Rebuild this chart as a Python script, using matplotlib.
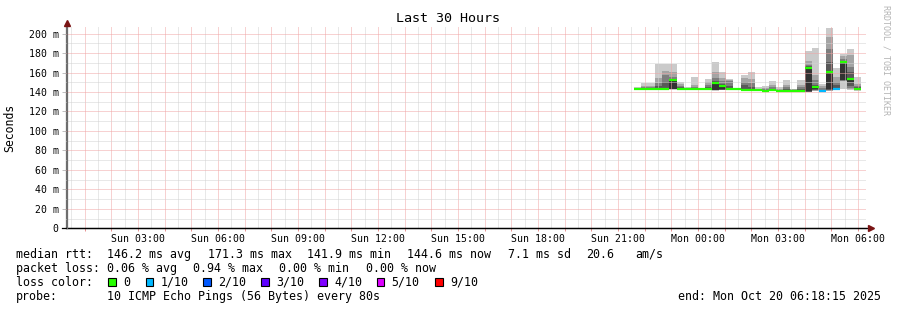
import matplotlib
matplotlib.use("Agg")
import matplotlib.pyplot as plt
import matplotlib.dates as mdates
import matplotlib.transforms as mtransforms
from matplotlib.patches import Rectangle
from matplotlib.lines import Line2D
import pandas as pd

W, H = 897, 310
FONT = "DejaVu Sans Mono"

# ---------------- data ----------------
range_start = "2025-10-19 00:18:15"
range_end = "2025-10-20 06:18:15"
step_start = pd.date_range("2025-10-19 21:36", periods=32, freq="16min")
step_minutes = 16

# 10 sorted ping RTTs (ms) for each step
pings = [
    [142.5, 142.8, 143.0, 143.0, 143.0, 143.0, 143.5, 144.0, 144.5, 145.5],
    [142.5, 142.8, 143.0, 143.0, 143.0, 143.0, 144.0, 145.0, 146.0, 149.0],
    [142.5, 142.8, 143.0, 143.0, 143.0, 143.0, 144.0, 145.5, 146.5, 149.0],
    [142.5, 143.0, 143.0, 143.2, 143.5, 143.5, 146.0, 149.0, 154.0, 168.8],
    [142.5, 142.8, 143.0, 143.0, 143.0, 143.2, 150.0, 157.0, 162.0, 168.8],
    [142.5, 143.0, 143.2, 143.4, 143.5, 152.0, 153.0, 155.4, 161.0, 168.8],
    [142.0, 142.5, 142.8, 143.0, 143.0, 143.5, 145.0, 146.5, 148.0, 150.3],
    [142.5, 142.7, 142.8, 143.0, 143.0, 143.0, 143.5, 144.0, 144.5, 145.0],
    [142.5, 142.7, 142.8, 143.0, 143.0, 143.0, 144.0, 145.5, 147.5, 155.4],
    [142.5, 142.8, 143.0, 143.2, 143.4, 143.5, 143.7, 144.0, 144.2, 144.5],
    [142.5, 142.7, 142.8, 143.0, 143.0, 143.0, 145.0, 147.5, 150.3, 153.4],
    [141.5, 141.8, 142.0, 142.2, 142.5, 149.0, 151.0, 154.4, 160.5, 170.8],
    [142.0, 142.2, 142.4, 142.5, 143.0, 146.0, 148.0, 151.0, 154.4, 160.5],
    [142.5, 142.8, 143.0, 143.2, 143.4, 143.5, 146.0, 151.0, 152.6, 153.7],
    [142.0, 142.2, 142.4, 142.5, 142.6, 142.7, 143.0, 143.3, 143.6, 144.0],
    [141.5, 141.6, 141.7, 141.8, 141.9, 142.0, 147.5, 150.3, 154.4, 157.8],
    [141.5, 141.6, 141.7, 141.8, 141.9, 142.0, 145.0, 149.0, 153.7, 160.5],
    [141.2, 141.3, 141.4, 141.5, 141.6, 141.7, 142.0, 142.5, 143.5, 144.8],
    [141.0, 141.1, 141.2, 141.3, 141.4, 141.5, 142.0, 143.0, 144.0, 145.8],
    [141.2, 141.3, 141.4, 141.5, 141.6, 141.8, 143.0, 145.0, 147.0, 151.6],
    [140.8, 140.9, 141.0, 141.0, 141.1, 141.2, 141.8, 142.5, 143.5, 145.0],
    [141.0, 141.1, 141.2, 141.3, 141.4, 141.5, 143.0, 145.0, 147.5, 152.6],
    [141.0, 141.1, 141.2, 141.3, 141.4, 141.5, 141.8, 142.2, 142.6, 143.0],
    [141.0, 141.1, 141.2, 141.3, 141.4, 141.5, 143.0, 145.0, 147.5, 152.0],
    [139.5, 140.0, 140.2, 140.5, 141.0, 164.5, 166.5, 168.0, 171.5, 182.0],
    [141.0, 141.5, 142.0, 142.5, 143.5, 145.0, 147.0, 152.0, 157.0, 185.0],
    [141.0, 141.1, 141.2, 141.3, 141.4, 141.5, 142.5, 144.0, 146.0, 148.5],
    [141.0, 141.5, 142.0, 142.5, 143.4, 161.0, 170.8, 184.5, 196.5, 205.7],
    [142.0, 142.3, 142.6, 143.0, 143.2, 143.5, 147.0, 150.3, 155.4, 164.6],
    [143.0, 151.5, 151.8, 152.0, 152.3, 170.5, 172.0, 173.6, 176.7, 179.4],
    [142.5, 143.0, 144.0, 146.0, 150.0, 153.5, 160.5, 165.7, 177.7, 184.0],
    [141.5, 142.0, 142.3, 142.5, 142.8, 143.5, 145.0, 146.0, 148.5, 155.4],
]
median_rtt = [143.0, 143.0, 143.0, 143.5, 143.2, 152.0, 143.5, 143.0, 143.0, 143.5,
              143.0, 149.0, 146.0, 143.5, 142.7, 142.0, 142.0, 141.7, 141.5, 141.8,
              141.2, 141.5, 141.5, 141.5, 164.5, 145.0, 141.5, 161.0, 143.5, 170.5,
              153.5, 143.5]
loss_count = [0] * 26 + [1, 0, 1, 0, 0, 0]

loss_keys = [0, 1, 2, 3, 4, 5, 9]
loss_labels = ["0", "1/10", "2/10", "3/10", "4/10", "5/10", "9/10"]
loss_colors = ["#26ff00", "#00b8ff", "#0059ff", "#5e00ff", "#7e00ff", "#dd00ff", "#ff0000"]
smoke_shades = ["#cacaca", "#a4a4a4", "#7e7e7e", "#585858", "#323232"]

ytick_values = [0, 20, 40, 60, 80, 100, 120, 140, 160, 180, 200]
ytick_labels = ["0", "20 m", "40 m", "60 m", "80 m", "100 m", "120 m", "140 m",
                "160 m", "180 m", "200 m"]
xtick_times = ["2025-10-19 03:00", "2025-10-19 06:00", "2025-10-19 09:00",
               "2025-10-19 12:00", "2025-10-19 15:00", "2025-10-19 18:00",
               "2025-10-19 21:00", "2025-10-20 00:00", "2025-10-20 03:00",
               "2025-10-20 06:00"]
xtick_labels = ["Sun 03:00", "Sun 06:00", "Sun 09:00", "Sun 12:00", "Sun 15:00",
                "Sun 18:00", "Sun 21:00", "Mon 00:00", "Mon 03:00", "Mon 06:00"]

title = "Last 30 Hours"
y_label = "Seconds"
stat_rows = [
    ("median rtt:", [(107, "146.2 ms avg"), (208, "171.3 ms max"), (307, "141.9 ms min"),
                     (407, "144.6 ms now"), (508, "7.1 ms sd"), (586, "20.6"), (635, "am/s")]),
    ("packet loss:", [(107, "0.06 % avg"), (193, "0.94 % max"), (279, "0.00 % min"),
                      (365.5, "0.00 % now")]),
]
probe_text = "10 ICMP Echo Pings (56 Bytes) every 80s"
end_text = "end: Mon Oct 20 06:18:15 2025"
watermark = "RRDTOOL / TOBI OETIKER"

# ---------------- figure ----------------
fig = plt.figure(figsize=(W / 100, H / 100), dpi=100, facecolor="white")
pix = mtransforms.Affine2D().scale(1, -1).translate(0, H)  # top-left pixel coords

ax_l, ax_r, ax_t, ax_b = 66, 866, 26, 228.3
ax = fig.add_axes([ax_l / W, (H - ax_b) / H, (ax_r - ax_l) / W, (ax_b - ax_t) / H])
ax.set_facecolor("white")

x0 = mdates.date2num(pd.Timestamp(range_start))
x1 = mdates.date2num(pd.Timestamp(range_end))
ax.set_xlim(x0, x1)
ax.set_ylim(0, 207.8)

# smoke
xs = mdates.date2num(step_start)
w = step_minutes / 1440.0
for k in range(5):
    lo = [p[k] for p in pings]
    hi = [p[9 - k] for p in pings]
    ax.bar(xs, [h - l for h, l in zip(hi, lo)], bottom=lo, width=w, align="edge",
           color=smoke_shades[k], linewidth=0, zorder=2)

# grid (drawn on top of smoke), 1px on / 1px off dots
grid_red = "#f0a4a4"
grid_gray = "#d2d2d2"
dots = (0, (1.0, 1.0))
hours = pd.date_range("2025-10-19 00:30", "2025-10-20 06:00", freq="30min")
for t in hours:
    xv = mdates.date2num(t)
    col = grid_red if t.minute == 0 else grid_gray
    ax.axvline(xv, color=col, lw=0.72, ls=dots, zorder=3)
for v in range(10, 201, 10):
    col = grid_red if v % 20 == 0 else grid_gray
    ax.axhline(v, color=col, lw=0.72, ls=dots, zorder=3)

# median lines coloured by loss
med_colors = [loss_colors[loss_keys.index(n)] for n in loss_count]
ax.hlines(median_rtt, xs, xs + w, colors=med_colors, lw=1.6, zorder=4)

# axes styling
for s in ["top", "right"]:
    ax.spines[s].set_visible(False)
ax.spines["left"].set_color("#6e6e6e")
ax.spines["left"].set_linewidth(0.9)
ax.spines["bottom"].set_color("black")
ax.spines["bottom"].set_linewidth(0.9)
ax.spines["bottom"].set_zorder(5)

ax.set_yticks(ytick_values)
ax.set_yticklabels(ytick_labels, fontfamily=FONT, fontsize=7.1)
ax.tick_params(axis="y", length=3, width=0.7, color="#c0c0c0", pad=2.2)

ax.set_xticks(mdates.date2num(pd.to_datetime(xtick_times)))
ax.set_xticklabels(xtick_labels, fontfamily=FONT, fontsize=7.1)
ax.tick_params(axis="x", length=2, width=0.7, color="#e89090", pad=2.3)
ax.set_xticks(mdates.date2num(pd.date_range("2025-10-19 01:00", "2025-10-20 06:00", freq="1h")), minor=True)
ax.tick_params(axis="x", which="minor", length=2, width=0.7, color="#e89090")

# axis extensions and arrows
fig.add_artist(Line2D([62, 870], [228.3, 228.3], transform=pix, color="black", lw=0.9))
fig.add_artist(Line2D([66.5, 66.5], [228.3, 23], transform=pix, color="#6e6e6e", lw=0.9))
fig.add_artist(Line2D([871], [228.3], transform=pix, marker=">", markersize=4.5,
                      color="#7a1414", ls="none"))
fig.add_artist(Line2D([66.5], [22.5], transform=pix, marker="^", markersize=4.5,
                      color="#7a1414", ls="none"))

# texts
fig.text(448, 19, title, transform=pix, fontfamily=FONT, fontsize=9.6,
         ha="center", va="center")
fig.text(10, 127.5, y_label, transform=pix, fontfamily=FONT, fontsize=8.3,
         rotation=90, ha="center", va="center")
fig.text(886, 5, watermark, transform=pix, fontfamily=FONT, fontsize=6,
         rotation=270, ha="center", va="top", color="#b4b4b4")

row_y = [254.3, 268.3, 282.3, 296.3]
fs = 8.35
for (head, items), y in zip(stat_rows, row_y[:2]):
    fig.text(16, y, head, transform=pix, fontfamily=FONT, fontsize=fs, va="center")
    for xpos, s in items:
        fig.text(xpos, y, s, transform=pix, fontfamily=FONT, fontsize=fs, va="center")

fig.text(16, row_y[2], "loss color:", transform=pix, fontfamily=FONT, fontsize=fs, va="center")
sq_x = [108.3, 145.7, 203.3, 261.0, 319.0, 376.7, 435.0]
for sx, lab, col in zip(sq_x, loss_labels, loss_colors):
    fig.add_artist(Rectangle((sx, row_y[2] - 4.5), 7.5, 8.5, transform=pix,
                             facecolor=col, edgecolor="black", lw=0.8))
    fig.text(sx + 15, row_y[2], lab, transform=pix, fontfamily=FONT, fontsize=fs, va="center")

fig.text(16, row_y[3], "probe:", transform=pix, fontfamily=FONT, fontsize=fs, va="center")
fig.text(107, row_y[3], probe_text, transform=pix, fontfamily=FONT, fontsize=fs, va="center")
fig.text(880.5, row_y[3], end_text, transform=pix, fontfamily=FONT, fontsize=fs,
         va="center", ha="right")

fig.savefig("out.png", dpi=100, facecolor="white")
